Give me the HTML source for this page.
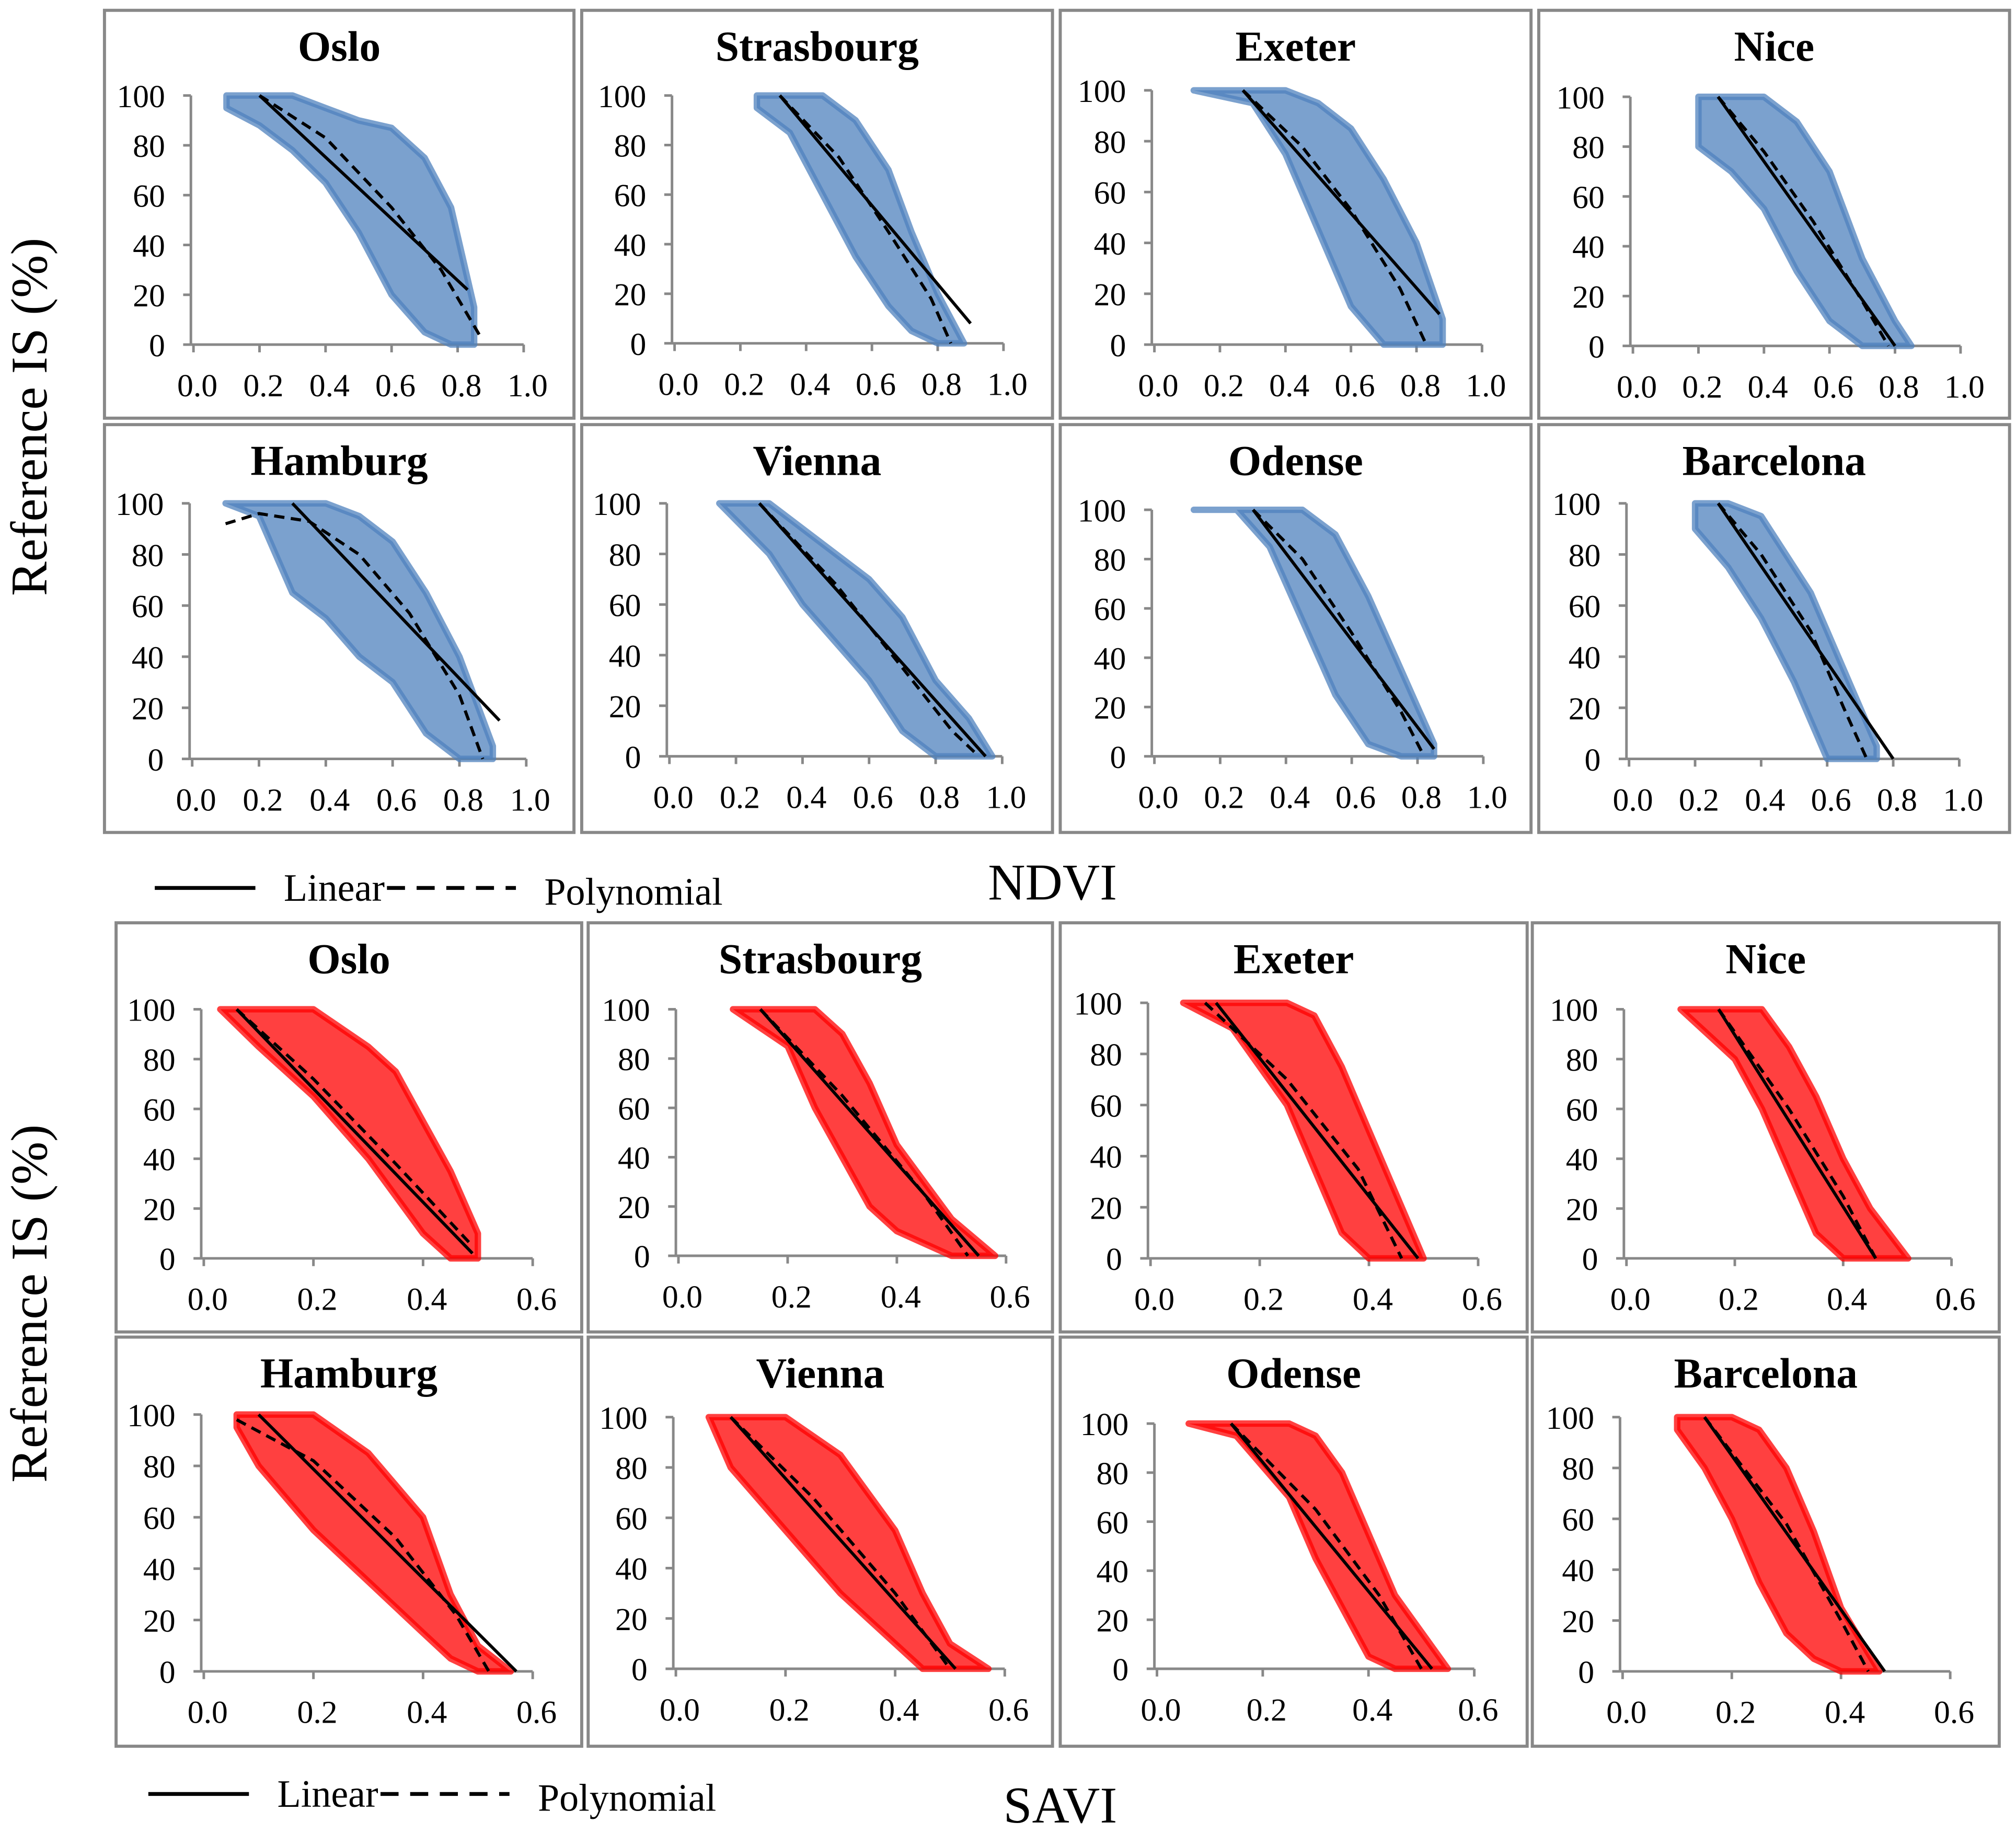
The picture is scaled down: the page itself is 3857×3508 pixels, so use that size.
<!DOCTYPE html>
<html><head><meta charset="utf-8">
<style>
html,body{margin:0;padding:0;background:#fff;}
svg{display:block;}
text{font-family:"Liberation Serif",serif;}
</style></head>
<body>
<svg id="chart" xmlns="http://www.w3.org/2000/svg" width="3857" height="3508" viewBox="0 0 1563 1421" preserveAspectRatio="none">
<g id="root"></g>
</svg>
<script>
// ---- data ----
const panelNames = ["Oslo","Strasbourg","Exeter","Nice","Hamburg","Vienna","Odense","Barcelona"];
const ndviTicks = ["0.0","0.2","0.4","0.6","0.8","1.0"];
const saviTicks = ["0.0","0.2","0.4","0.6"];
const yTicks = [0,20,40,60,80,100];

const ndviCloudX = [
 [0.1,0.2,0.3,0.4,0.5,0.6,0.7,0.78,0.85],
 [0.25,0.35,0.45,0.55,0.65,0.72,0.8,0.88],
 [0.12,0.3,0.4,0.5,0.6,0.7,0.8,0.88],
 [0.2,0.3,0.4,0.5,0.6,0.7,0.8,0.85],
 [0.1,0.2,0.3,0.4,0.5,0.6,0.7,0.8,0.9],
 [0.15,0.3,0.4,0.5,0.6,0.7,0.8,0.9,0.97],
 [0.12,0.25,0.35,0.45,0.55,0.65,0.75,0.85],
 [0.2,0.3,0.4,0.5,0.55,0.6,0.7,0.75]];
const ndviCloudHi = [
 [100,100,100,95,90,87,75,55,15],
 [100,100,100,90,70,45,20,0],
 [100,100,100,95,85,65,40,10],
 [100,100,100,90,70,35,10,0],
 [100,100,100,100,95,85,65,40,5],
 [100,100,90,80,70,55,30,15,0],
 [100,100,100,100,90,65,35,5],
 [100,100,95,75,65,50,20,5]];
const ndviCloudLo = [
 [95,88,78,65,45,20,5,0,0],
 [95,85,60,35,15,5,0,0],
 [100,95,75,45,15,0,0,0],
 [80,70,55,30,10,0,0,0],
 [100,95,65,55,40,30,10,0,0],
 [100,80,60,45,30,10,0,0,0],
 [100,100,85,55,25,5,0,0],
 [90,75,55,30,15,0,0,0]];
const ndviLinear = [
 [[0.2,100],[0.83,22]],[[0.32,100],[0.9,8]],[[0.27,100],[0.87,12]],[[0.26,100],[0.8,0]],
 [[0.3,100],[0.92,15]],[[0.27,100],[0.95,0]],[[0.3,100],[0.85,3]],[[0.27,100],[0.8,0]]];
const ndviPoly = [
 [[0.2,100],[0.4,83],[0.6,55],[0.75,30],[0.87,3]],
 [[0.32,100],[0.5,75],[0.65,45],[0.78,18],[0.84,0]],
 [[0.27,100],[0.45,78],[0.6,53],[0.75,22],[0.83,0]],
 [[0.26,100],[0.4,78],[0.55,50],[0.7,18],[0.78,0]],
 [[0.1,92],[0.2,96],[0.35,93],[0.5,80],[0.65,57],[0.8,25],[0.87,0]],
 [[0.27,100],[0.5,68],[0.7,35],[0.85,10],[0.93,0]],
 [[0.3,100],[0.45,80],[0.6,50],[0.75,18],[0.82,0]],
 [[0.27,100],[0.4,80],[0.55,50],[0.65,20],[0.72,0]]];

const saviCloudX = [
 [0.03,0.1,0.2,0.3,0.35,0.4,0.45,0.5],
 [0.1,0.2,0.25,0.3,0.35,0.4,0.5,0.58],
 [0.06,0.15,0.25,0.3,0.35,0.4,0.45,0.5],
 [0.1,0.2,0.25,0.3,0.35,0.4,0.45,0.52],
 [0.06,0.1,0.2,0.3,0.4,0.45,0.5,0.56],
 [0.06,0.1,0.2,0.3,0.4,0.45,0.5,0.57],
 [0.06,0.15,0.25,0.3,0.35,0.4,0.45,0.55],
 [0.1,0.15,0.2,0.25,0.3,0.35,0.4,0.47]];
const saviCloudHi = [
 [100,100,100,85,75,55,35,10],
 [100,100,100,90,70,45,15,0],
 [100,100,100,95,75,50,25,0],
 [100,100,100,85,65,40,20,0],
 [100,100,100,85,60,30,10,0],
 [100,100,100,85,55,30,10,0],
 [100,100,100,95,80,55,30,0],
 [100,100,100,95,80,55,25,0]];
const saviCloudLo = [
 [100,85,65,40,25,10,0,0],
 [100,85,60,40,20,10,0,0],
 [100,90,60,35,10,0,0,0],
 [100,80,60,35,10,0,0,0],
 [95,80,55,35,15,5,0,0],
 [100,80,55,30,10,0,0,0],
 [100,95,70,45,25,5,0,0],
 [95,80,60,35,15,5,0,0]];
const saviLinear = [
 [[0.06,100],[0.49,2]],[[0.15,100],[0.55,0]],[[0.12,100],[0.49,0]],[[0.17,100],[0.46,0]],
 [[0.1,100],[0.57,0]],[[0.1,100],[0.51,0]],[[0.14,100],[0.52,0]],[[0.15,100],[0.48,0]]];
const saviPoly = [
 [[0.06,100],[0.2,72],[0.35,38],[0.49,5]],
 [[0.15,100],[0.3,65],[0.45,25],[0.53,0]],
 [[0.1,100],[0.25,70],[0.38,35],[0.46,0]],
 [[0.17,100],[0.3,60],[0.4,25],[0.46,0]],
 [[0.06,98],[0.2,82],[0.35,52],[0.46,22],[0.52,0]],
 [[0.1,100],[0.25,68],[0.4,30],[0.5,0]],
 [[0.14,100],[0.3,65],[0.42,30],[0.5,0]],
 [[0.15,100],[0.3,58],[0.4,20],[0.45,0]]];

// ---- layout (pixel geometry, not data) ----
const ndviBoxes = [[81,8,364,316],[451,8,365,316],[822,8,365,316],[1193,8,365,316],
                   [81,329,364,316],[451,329,365,316],[822,329,365,316],[1193,329,365,316]];
const ndviPlots = [[150,406,74,267],[523,778,74,266],[895,1149,70,267],[1266,1520,75,268],
                   [149,408,390,588],[519,777,390,586],[895,1150,395,586],[1263,1519,390,588]];
const saviBoxes = [[90,715,361,317],[456,715,360,317],[822,715,362,317],[1188,715,362,317],
                   [90,1036,361,317],[456,1036,360,317],[822,1036,362,317],[1188,1036,362,317]];
const saviPlots = [[158,413,782,975],[526,780,782,973],[892,1146,777,975],[1261,1513,782,975],
                   [158,413,1096,1295],[524,779,1098,1293],[897,1143,1103,1293],[1258,1512,1098,1295]];

const NS = "http://www.w3.org/2000/svg";
const root = document.getElementById("root");
function mk(tag, attrs, parent){
  const e = document.createElementNS(NS, tag);
  for (const k in attrs) e.setAttribute(k, attrs[k]);
  (parent||root).appendChild(e); return e;
}

function drawPanel(idx, box, plot, xmax, ticks, cx, hi, lo, lin, poly, color, prefix){
  const g = mk("g", {});
  
  
  const [bx,by,bw,bh] = box;
  const [x0,x1,y100,y0] = plot;
  const sx = v => x0 + (v / xmax) * (x1 - x0);
  const sy = v => y0 - (v / 100) * (y0 - y100);
  const fr = mk("rect", {x:bx,y:by,width:bw,height:bh,fill:"none",stroke:"#888",'stroke-width':2.4}, g);
  
  
  const t = mk("text", {x:bx+bw/2, y:by+39, 'text-anchor':"middle", 'font-size':33, 'font-weight':"bold"}, g);
  t.textContent = panelNames[idx];
  
  
  // axes
  const ya = mk("line", {x1:x0-2,y1:y100,x2:x0-2,y2:y0,stroke:"#888",'stroke-width':2}, g);
  
  
  const xa = mk("line", {x1:x0-2,y1:y0,x2:x1,y2:y0,stroke:"#888",'stroke-width':2}, g);
  
  
  yTicks.forEach(v => {
    mk("line", {x1:x0-8,y1:sy(v),x2:x0-2,y2:sy(v),stroke:"#888",'stroke-width':2}, g);
    const tl = mk("text", {x:x0-22, y:sy(v)+9, 'text-anchor':"end", 'font-size':25}, g);
    tl.textContent = v;
    
    
  });
  ticks.forEach(s => {
    const v = parseFloat(s);
    mk("line", {x1:sx(v),y1:y0,x2:sx(v),y2:y0+6,stroke:"#888",'stroke-width':2}, g);
    const tl = mk("text", {x:sx(v)+3, y:y0+40, 'text-anchor':"middle", 'font-size':25}, g);
    tl.textContent = s;
    
    
  });
  // cloud
  let pts = [];
  for (let i=0;i<cx.length;i++) pts.push(sx(cx[i]).toFixed(1)+","+sy(hi[i]).toFixed(1));
  for (let i=cx.length-1;i>=0;i--) pts.push(sx(cx[i]).toFixed(1)+","+sy(lo[i]).toFixed(1));
  const cl = mk("polygon", {points:pts.join(" "), fill:color, 'fill-opacity':0.75, stroke:color, 'stroke-width':5, 'stroke-linejoin':"round", 'stroke-opacity':0.75}, g);
  
  
  const lp = lin.map(p => sx(p[0]).toFixed(1)+","+sy(p[1]).toFixed(1)).join(" ");
  const ll = mk("polyline", {points:lp, fill:"none", stroke:"#000", 'stroke-width':2.4}, g);
  
  
  const pp = poly.map(p => sx(p[0]).toFixed(1)+","+sy(p[1]).toFixed(1)).join(" ");
  const pl = mk("polyline", {points:pp, fill:"none", stroke:"#000", 'stroke-width':2.4, 'stroke-dasharray':"8,5"}, g);
  
  
}

for (let i=0;i<8;i++){
  drawPanel(i, ndviBoxes[i], ndviPlots[i], 1.0, ndviTicks, ndviCloudX[i], ndviCloudHi[i], ndviCloudLo[i], ndviLinear[i], ndviPoly[i], "#4f81bd", "ndvi");
  drawPanel(i, saviBoxes[i], saviPlots[i], 0.6, saviTicks, saviCloudX[i], saviCloudHi[i], saviCloudLo[i], saviLinear[i], saviPoly[i], "#ff0000", "savi");
}

function legend(y, lx, prefix){
  const g = mk("g", {});
  
  
  mk("line", {x1:lx,y1:y,x2:lx+78,y2:y,stroke:"#000",'stroke-width':3}, g);
  const a = mk("text", {x:lx+100,y:y+10,'font-size':30}, g); a.textContent = "Linear";
  
  
  mk("line", {x1:lx+180,y1:y,x2:lx+280,y2:y,stroke:"#000",'stroke-width':3,'stroke-dasharray':"14,9"}, g);
  const b = mk("text", {x:lx+302,y:y+13,'font-size':30}, g); b.textContent = "Polynomial";
  
  
}
legend(688, 120, "ndvi");
legend(1390, 115, "savi");

function title(x, y, s, rot, name){
  const t = mk("text", {x:x, y:y, 'text-anchor':"middle", 'font-size':40});
  if (rot) t.setAttribute("transform", "rotate(-90 "+x+" "+y+")");
  t.textContent = s;
  
  
}
title(816, 697, "NDVI", false, "ndvi-x-axis-title");
title(822, 1412, "SAVI", false, "savi-x-axis-title");
title(36, 323, "Reference IS (%)", true, "ndvi-y-axis-title");
title(36, 1010, "Reference IS (%)", true, "savi-y-axis-title");
</script>
</body></html>
